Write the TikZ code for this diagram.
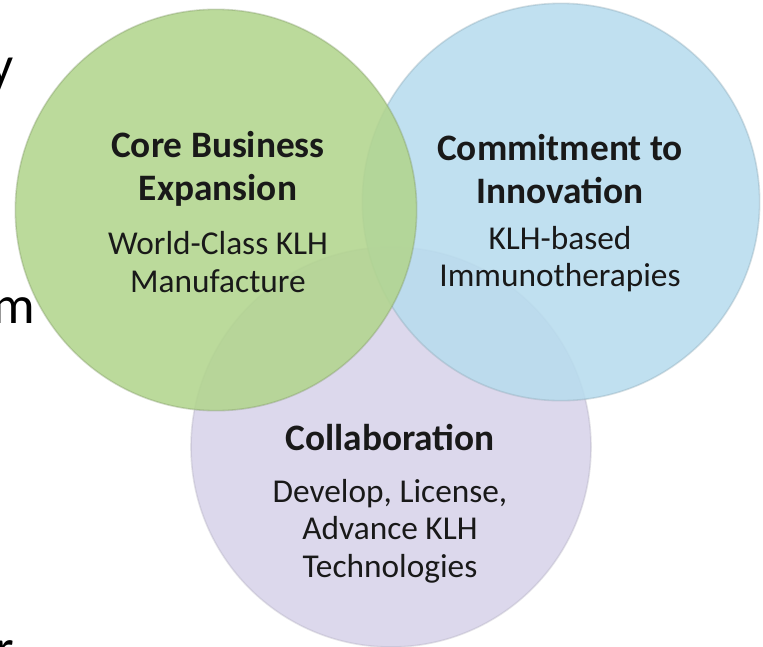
\documentclass[tikz,border=0pt]{standalone}
\usepackage{fontspec}
\setmainfont{Carlito}
\definecolor{cgreen}{RGB}{178,213,142}
\definecolor{cblue}{RGB}{184,220,238}
\definecolor{cpurple}{RGB}{220,216,236}
\definecolor{ctext}{RGB}{25,25,25}
\tikzset{
  venn/.style={circle, minimum size=#1, inner sep=0pt, line width=1.2pt},
  head/.style={align=center, text=ctext, font=\bfseries\fontsize{28}{32}\selectfont},
  sub/.style={align=center, text=ctext, font=\fontsize{25}{28}\selectfont},
  frag/.style={text=black, font=\fontsize{40}{44}\selectfont, inner sep=0pt}
}
\begin{document}
\begin{tikzpicture}[x=0.75pt,y=-0.75pt]
\useasboundingbox (0,0) rectangle (763,646);
\clip (0,0) rectangle (763,646);
\fill[white] (0,0) rectangle (763,646);
% circles
\node[venn=300pt, fill=cpurple, draw=cpurple!80!black, draw opacity=0.35] (pc) at (391,447) {};
\node[venn=298pt, fill=cblue, fill opacity=0.88, draw=cblue!75!black, draw opacity=0.35] (bc) at (561,202) {};
\node[venn=301pt, fill=cgreen, fill opacity=0.88, draw=cgreen!70!black, draw opacity=0.35] (gc) at (216,210) {};
% texts
\node[head] (gh) at (218,169) {Core Business\\Expansion};
\node[sub] (gs) at (218,262) {World-Class KLH\\Manufacture};
\node[head] (bh) at (560,169) {Commitment to\\Innovation};
\node[sub] (bs) at (560,259) {KLH-based\\Immunotherapies};
\node[head] (ph) at (390,438) {Collaboration};
\node[sub] (ps) at (390,531) {Develop, License,\\Advance KLH\\Technologies};
% fragments of slide text cut at the left edge
\node[frag, anchor=base east] (f1) at (14,83) {y};
\node[frag, anchor=base east] (f2) at (35,323) {m};
\node[frag, anchor=base east] (f3) at (14,666) {r};
\end{tikzpicture}
\end{document}
